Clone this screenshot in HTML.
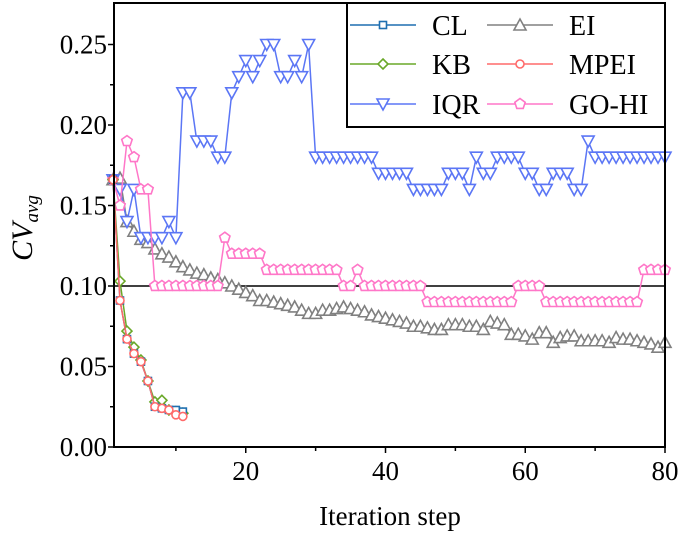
<!DOCTYPE html>
<html><head><meta charset="utf-8"><style>
body{margin:0;background:#fff;}
svg{display:block;}
text{font-family:"Liberation Serif","Times New Roman",serif;}
</style></head><body>
<svg id="chart" width="685" height="534" font-family="Liberation Serif, serif"></svg>
<script>
const iterations = Array.from({length:80},(_,i)=>i+1);
const clValues = [0.166,0.091,0.067,0.058,0.053,0.041,0.025,0.024,0.023,0.023,0.022];
const kbValues = [0.166,0.103,0.072,0.062,0.054,0.041,0.028,0.029,0.023,0.022,0.021];
const mpeiValues = [0.166,0.091,0.067,0.058,0.053,0.041,0.025,0.024,0.023,0.020,0.019];
const iqrValues = [0.166,0.16,0.14,0.16,0.13,0.13,0.13,0.13,0.14,0.13,0.22,0.22,0.19,0.19,0.19,0.18,0.18,0.22,0.23,0.24,0.23,0.24,0.25,0.25,0.23,0.23,0.24,0.23,0.25,
0.18,0.18,0.18,0.18,0.18,0.18,0.18,0.18,0.18,0.17,0.17,0.17,0.17,0.17,0.16,0.16,0.16,0.16,0.16,0.17,0.17,0.17,0.16,0.18,0.17,0.17,0.18,0.18,0.18,0.18,0.17,0.17,0.16,0.16,0.17,0.17,0.17,0.16,0.16,0.19,
0.18,0.18,0.18,0.18,0.18,0.18,0.18,0.18,0.18,0.18,0.18];
const gohiValues = [0.166,0.15,0.19,0.18,0.16,0.16,0.10,0.10,0.10,0.10,0.10,0.10,0.10,0.10,0.10,0.10,0.13,0.12,0.12,0.12,0.12,0.12,
0.11,0.11,0.11,0.11,0.11,0.11,0.11,0.11,0.11,0.11,0.11,0.10,0.10,0.11,0.10,0.10,0.10,0.10,0.10,0.10,0.10,0.10,0.10,
0.09,0.09,0.09,0.09,0.09,0.09,0.09,0.09,0.09,0.09,0.09,0.09,0.09,0.10,0.10,0.10,0.10,
0.09,0.09,0.09,0.09,0.09,0.09,0.09,0.09,0.09,0.09,0.09,0.09,0.09,0.09,0.11,0.11,0.11,0.11];
const eiValues = [0.166,0.167,0.140,0.134,0.129,0.127,0.123,0.120,0.118,0.115,0.112,0.110,0.108,0.107,0.105,0.104,0.102,0.100,0.098,0.096,
0.094,0.091,0.091,0.090,0.089,0.088,0.087,0.085,0.083,0.083,0.085,0.085,0.086,0.087,0.086,0.085,0.084,0.082,0.081,0.080,
0.079,0.078,0.077,0.075,0.075,0.074,0.073,0.073,0.076,0.076,0.076,0.075,0.075,0.073,0.078,0.077,0.076,0.070,0.070,0.069,
0.067,0.071,0.071,0.065,0.068,0.069,0.069,0.066,0.066,0.066,0.066,0.065,0.068,0.067,0.067,0.066,0.065,0.064,0.062,0.065];
const xTicks = [20,40,60,80];
const yTicks = [0,0.05,0.10,0.15,0.20,0.25];
const yTickLabels = ["0.00","0.05","0.10","0.15","0.20","0.25"];

const NS="http://www.w3.org/2000/svg";
const svg=document.getElementById('chart');
const L=114,R=665,T=3,B=447;
const FONT='Liberation Serif, Times New Roman, serif';
const xs=v=>113+(v-1)*(552/79);
const ys=v=>B-v*1610;
function mk(tag,attrs,parent){const e=document.createElementNS(NS,tag);for(const k in attrs)e.setAttribute(k,attrs[k]);if(tag==='text')e.setAttribute('font-family',FONT);(parent||svg).appendChild(e);return e;}

const ref=mk('line',{x1:L,x2:R,y1:ys(0.1),y2:ys(0.1),stroke:'#000','stroke-width':1.5});



function marker(type,x,y,color,g){
  let e;
  if(type==='square') e=mk('rect',{x:x-3.5,y:y-3.5,width:7,height:7,fill:'#fff',stroke:color,'stroke-width':1.6},g);
  else if(type==='diamond') e=mk('polygon',{points:`${x},${y-5} ${x+5},${y} ${x},${y+5} ${x-5},${y}`,fill:'#fff',stroke:color,'stroke-width':1.6},g);
  else if(type==='circle') e=mk('circle',{cx:x,cy:y,r:4,fill:'#fff',stroke:color,'stroke-width':1.6},g);
  else if(type==='tri-down') e=mk('polygon',{points:`${x-6},${y-5} ${x+6},${y-5} ${x},${y+6}`,fill:'#fff',stroke:color,'stroke-width':1.6},g);
  else if(type==='tri-up') e=mk('polygon',{points:`${x-6},${y+5} ${x+6},${y+5} ${x},${y-6}`,fill:'#fff',stroke:color,'stroke-width':1.6},g);
  else if(type==='pentagon'){let p=[];for(let i=0;i<5;i++){const a=-Math.PI/2+i*2*Math.PI/5;p.push((x+5.5*Math.cos(a)).toFixed(1)+','+(y+5.5*Math.sin(a)).toFixed(1));}e=mk('polygon',{points:p.join(' '),fill:'#fff',stroke:color,'stroke-width':1.6},g);}
  return e;
}
function series(name,vals,color,type){
  const g=mk('g',{});
  
  
  const pts=vals.map((v,i)=>xs(iterations[i]).toFixed(1)+','+ys(v).toFixed(1)).join(' ');
  mk('polyline',{points:pts,fill:'none',stroke:color,'stroke-width':1.5},g);
  vals.forEach((v,i)=>{const m=marker(type,xs(iterations[i]),ys(v),color,g);
    
    });
}
series('ei',eiValues,'#808080','tri-up');
series('iqr',iqrValues,'#5b76f5','tri-down');
series('go-hi',gohiValues,'#ff77c8','pentagon');
series('kb',kbValues,'#6aa829','diamond');
series('cl',clValues,'#1f6fb0','square');
series('mpei',mpeiValues,'#ff6a6a','circle');

const frame=mk('rect',{x:L,y:T,width:R-L,height:B-T,fill:'none',stroke:'#000','stroke-width':2});


xTicks.forEach(t=>{
  mk('line',{x1:xs(t),x2:xs(t),y1:B,y2:B+6,stroke:'#000','stroke-width':1.5});
  mk('line',{x1:xs(t-10),x2:xs(t-10),y1:B,y2:B+4,stroke:'#000','stroke-width':1.5});
  const tx=mk('text',{x:xs(t),y:B+33,'text-anchor':'middle','font-size':27});
  tx.textContent=t;
  
  
});
yTicks.forEach((t,i)=>{
  mk('line',{x1:L-6,x2:L,y1:ys(t),y2:ys(t),stroke:'#000','stroke-width':1.5});
  if(i<yTicks.length-1) mk('line',{x1:L-4,x2:L,y1:ys(t+0.025),y2:ys(t+0.025),stroke:'#000','stroke-width':1.5});
  const tx=mk('text',{x:L-7,y:ys(t)+9,'text-anchor':'end','font-size':27});
  tx.textContent=yTickLabels[i];
  
  
});
const xt=mk('text',{x:390,y:525,'text-anchor':'middle','font-size':27});
xt.textContent='Iteration step';


const yt=mk('text',{x:0,y:0,transform:'translate(32,228) rotate(-90)','text-anchor':'middle','font-size':30,'font-style':'italic'});
yt.innerHTML='CV<tspan font-size="19" dy="6">avg</tspan>';



const lg=mk('g',{});


mk('rect',{x:347,y:3,width:318,height:124,fill:'#fff',stroke:'#000','stroke-width':2},lg);
const legendItems=[['CL','#1f6fb0','square',350,25],['KB','#6aa829','diamond',350,64],['IQR','#5b76f5','tri-down',350,104],
['EI','#808080','tri-up',487,25],['MPEI','#ff6a6a','circle',487,64],['GO-HI','#ff77c8','pentagon',487,104]];
legendItems.forEach(([n,c,t,x,y])=>{
  const g=mk('g',{},lg);
  
  
  mk('line',{x1:x,x2:x+66,y1:y,y2:y,stroke:c,'stroke-width':1.5},g);
  marker(t,x+33,y,c,g);
  const tx=mk('text',{x:x+82,y:y+10,'font-size':28},g);
  tx.textContent=n;
});
</script>
</body></html>
